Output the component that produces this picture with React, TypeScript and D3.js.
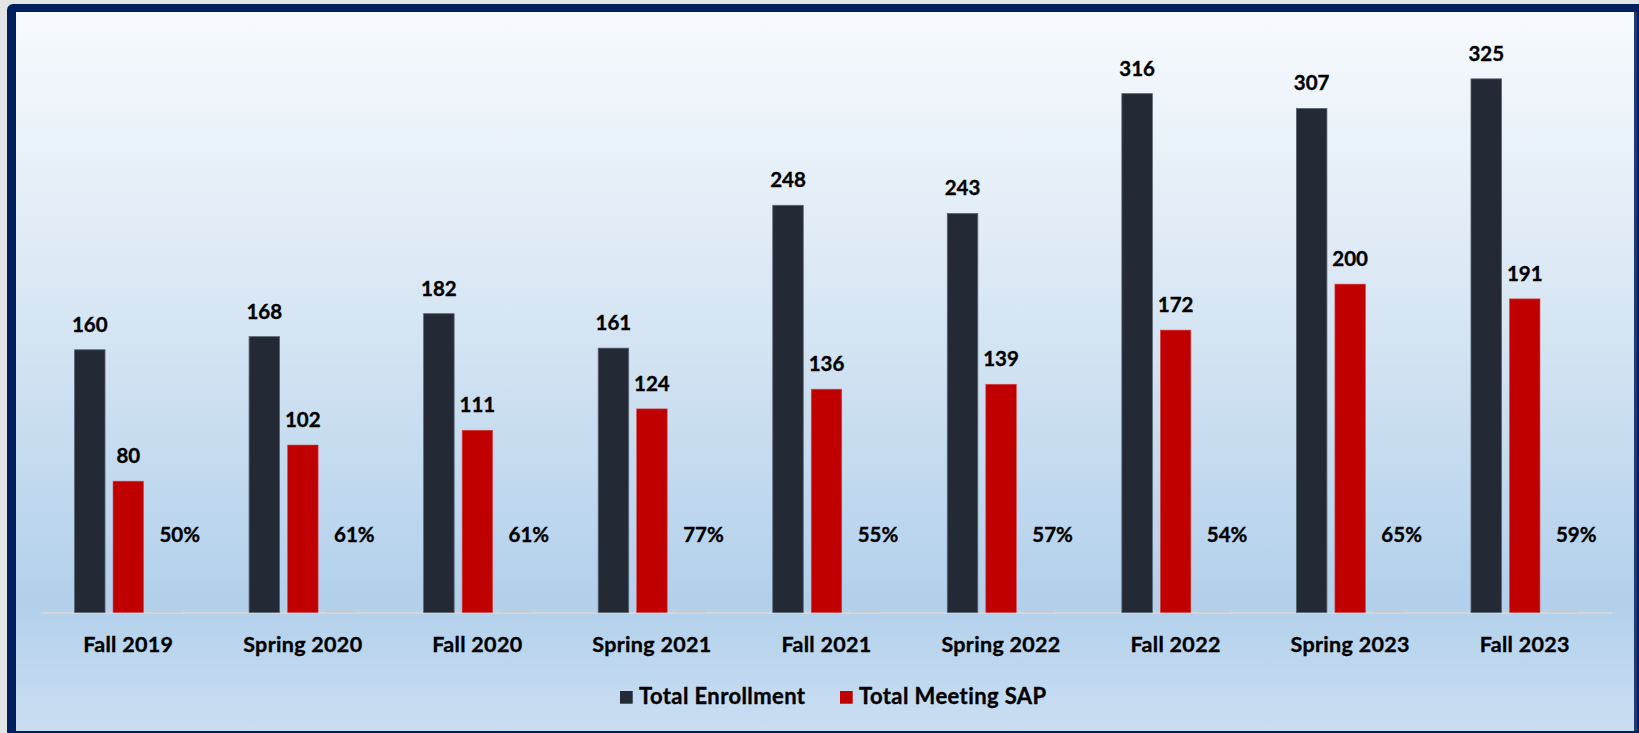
import React from "react";
import * as d3 from "d3";

const categories = ["Fall 2019", "Spring 2020", "Fall 2020", "Spring 2021", "Fall 2021", "Spring 2022", "Fall 2022", "Spring 2023", "Fall 2023"];
const totalEnrollment = [160, 168, 182, 161, 248, 243, 316, 307, 325];
const totalMeetingSAP = [80, 102, 111, 124, 136, 139, 172, 200, 191];
const percentMeetingSAP = [0.5, 0.61, 0.61, 0.77, 0.55, 0.57, 0.54, 0.65, 0.59];
const seriesKeys = ["enroll", "sap", "pct"];
const legendLabels = ["Total Enrollment", "Total Meeting SAP"];

const W = 1639;
const H = 733;
const FONT = "Lato, 'Open Sans', sans-serif";
const DARK = "#232a35";
const RED = "#c00000";

const textProps = {
  fontFamily: FONT,
  fontWeight: 700,
  fill: "#000",
  stroke: "#000",
  strokeWidth: 0.35,
};

export default function App() {
  const baseline = 612.5;
  const y = d3.scaleLinear().domain([0, 350]).range([baseline, baseline - 350 * 1.642]);
  const x0 = d3.scaleBand<string>().domain(categories).range([41, 1612]).paddingInner(0).paddingOuter(0);
  const x1 = d3.scaleBand<string>().domain(seriesKeys).range([-53.75, 53.75]).paddingInner(8 / 38.5).paddingOuter(0);
  const bw = x1.bandwidth();
  const center = (c: string) => (x0(c) as number) + x0.bandwidth() / 2;

  return (
    <svg width={W} height={H} style={{ position: "absolute", left: 0, top: 0, display: "block" }} xmlns="http://www.w3.org/2000/svg">
      <defs>
        <linearGradient id="bg" x1="0" y1="0" x2="0" y2="1">
          <stop offset="0%" stopColor="#f7fafd" />
          <stop offset="40%" stopColor="#d9e7f4" />
          <stop offset="82%" stopColor="#b2d0eb" />
          <stop offset="100%" stopColor="#cadef2" />
        </linearGradient>
      </defs>
      <rect x={0} y={0} width={W} height={H} fill="#e3e4e6" />
      <rect x={7} y={4} width={W} height={H} rx={6} fill="#001f5f" />
      <rect x={16} y={12} width={1618} height={719} fill="url(#bg)" />
      <rect x={1634} y={12} width={3} height={719} fill="#1f3b75" />

      {/* axis line */}
      <line x1={41} x2={1612} y1={baseline + 0.5} y2={baseline + 0.5} stroke="#d3d6da" strokeWidth={2} />

      {categories.map((c, i) => {
        const cx = center(c);
        const xe = cx + (x1("enroll") as number);
        const xs = cx + (x1("sap") as number);
        const xp = cx + (x1("pct") as number);
        const ve = totalEnrollment[i];
        const vs = totalMeetingSAP[i];
        const vp = percentMeetingSAP[i];
        return (
          <g key={c}>
            <rect x={xe} y={y(ve)} width={bw} height={baseline - y(ve)} fill={DARK} stroke="#5a6472" strokeWidth={0.8} />
            <rect x={xs} y={y(vs)} width={bw} height={baseline - y(vs)} fill={RED} stroke="#d44a4a" strokeWidth={0.6} />
            <rect x={xp} y={y(vp) - 1} width={bw} height={baseline - y(vp) + 1} fill="#c5c9ce" />
            <text x={xe + bw / 2} y={y(ve) - 18} textAnchor="middle" fontSize={20.5} {...textProps}>{ve}</text>
            <text x={xs + bw / 2} y={y(vs) - 18} textAnchor="middle" fontSize={20.5} {...textProps}>{vs}</text>
            <text x={xp + bw / 2 + 13} y={baseline - 71} textAnchor="middle" fontSize={20.5} {...textProps}>{d3.format(".0%")(vp)}</text>
            <text x={cx} y={baseline + 39} textAnchor="middle" fontSize={21.5} letterSpacing={0.3} {...textProps}>{c}</text>
          </g>
        );
      })}

      {/* legend */}
      <rect x={620} y={691} width={12.7} height={12.7} fill={DARK} />
      <text x={639} y={704} fontSize={22} letterSpacing={0.4} {...textProps}>{legendLabels[0]}</text>
      <rect x={840} y={691} width={12.7} height={12.7} fill={RED} />
      <text x={859} y={704} fontSize={22} letterSpacing={0.4} {...textProps}>{legendLabels[1]}</text>
    </svg>
  );
}
